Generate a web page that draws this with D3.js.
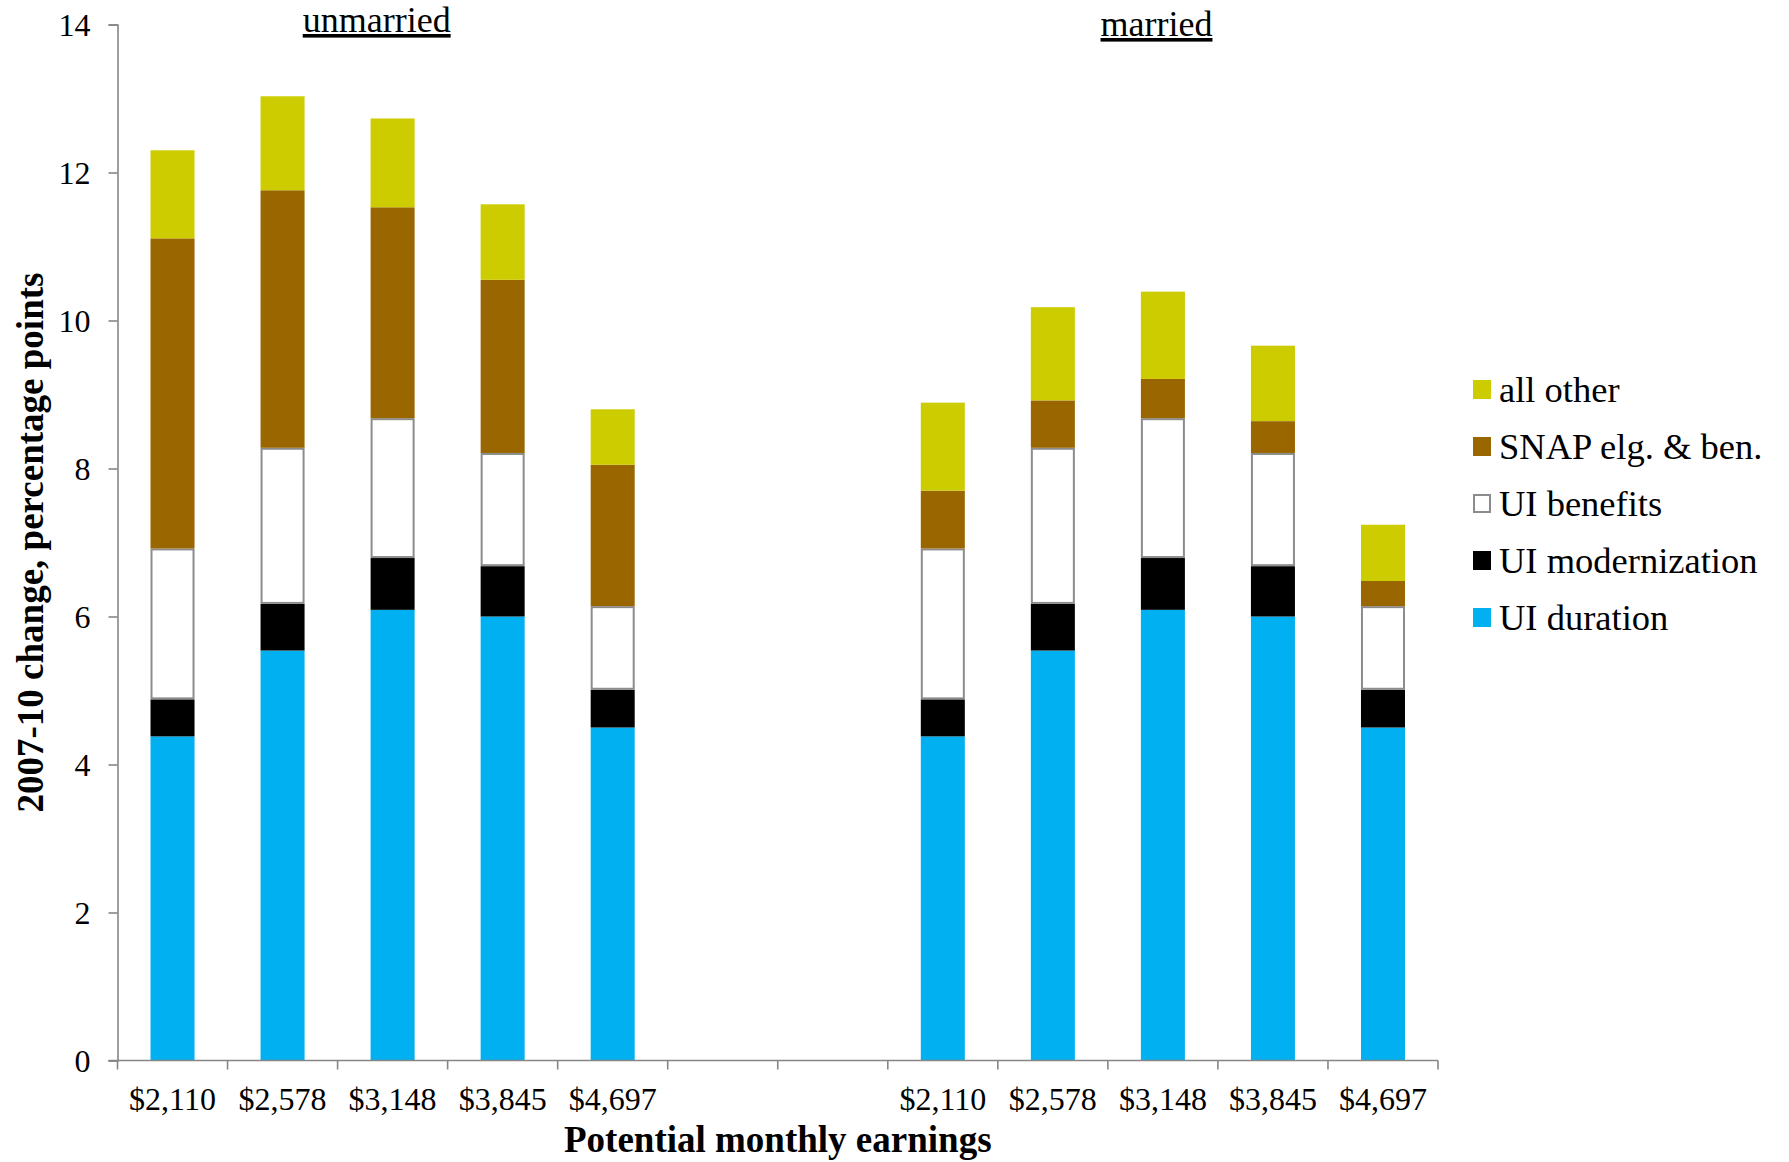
<!DOCTYPE html>
<html>
<head>
<meta charset="utf-8">
<script src="https://cdn.jsdelivr.net/npm/d3@7"></script>
<style>
  html, body { margin: 0; padding: 0; background: #ffffff; }
  svg { display: block; font-family: "Liberation Serif", "Times New Roman", serif; }
</style>
</head>
<body>
<svg id="chart" width="1789" height="1162"></svg>
<script>
// ---- data ----
const earnings = ["$2,110", "$2,578", "$3,148", "$3,845", "$4,697"];
const groups = ["unmarried", "married"];
const seriesNames = ["UI duration", "UI modernization", "UI benefits", "SNAP elg. & ben.", "all other"];
const seriesColors = ["#00b0f0", "#000000", "#ffffff", "#996600", "#cccc00"];
const yTicks = [0, 2, 4, 6, 8, 10, 12, 14];

// segment values, percentage points (same order as earnings)
const uiDurationUnmarried   = [4.38, 5.54, 6.09, 6.00, 4.50];
const uiModernUnmarried     = [0.50, 0.63, 0.70, 0.68, 0.51];
const uiBenefitsUnmarried   = [2.04, 2.11, 1.89, 1.53, 1.13];
const snapUnmarried         = [4.19, 3.48, 2.85, 2.34, 1.91];
const allOtherUnmarried     = [1.19, 1.27, 1.20, 1.02, 0.75];

const uiDurationMarried     = [4.38, 5.54, 6.09, 6.00, 4.50];
const uiModernMarried       = [0.50, 0.63, 0.70, 0.68, 0.51];
const uiBenefitsMarried     = [2.04, 2.11, 1.89, 1.53, 1.13];
const snapMarried           = [0.78, 0.64, 0.53, 0.43, 0.34];
const allOtherMarried       = [1.19, 1.26, 1.18, 1.02, 0.76];

(function () {
// ---- build table ----
const rows = [];
earnings.forEach((e, i) => rows.push({key: "u" + i, label: e,
  vals: [uiDurationUnmarried[i], uiModernUnmarried[i], uiBenefitsUnmarried[i], snapUnmarried[i], allOtherUnmarried[i]]}));
rows.push({key: "gap1", label: "", vals: null});
rows.push({key: "gap2", label: "", vals: null});
earnings.forEach((e, i) => rows.push({key: "m" + i, label: e,
  vals: [uiDurationMarried[i], uiModernMarried[i], uiBenefitsMarried[i], snapMarried[i], allOtherMarried[i]]}));

const svg = d3.select("#chart");
const pLeft = 117.5, pRight = 1438, pTop = 24.5, pBottom = 1060.5;

const x = d3.scaleBand().domain(rows.map(r => r.key)).range([pLeft, pRight]).padding(0);
const y = d3.scaleLinear().domain([0, 14]).range([pBottom, pTop]);
const axisColor = "#868686";
const barW = x.bandwidth() * 0.4;

// bars
const barRows = rows.filter(r => r.vals);
barRows.forEach(r => {
  let cum = 0;
  const g = svg.append("g");
  r.vals.forEach((v, si) => {
    const y0 = cum, y1 = cum + v;
    cum = y1;
    const rect = g.append("rect")
      .attr("x", x(r.key) + (x.bandwidth() - barW) / 2)
      .attr("width", barW)
      .attr("y", y(y1))
      .attr("height", y(y0) - y(y1))
      .attr("fill", seriesColors[si]);
    if (si === 2) {
      rect.attr("stroke", "#8c8c8c").attr("stroke-width", 2)
        .attr("x", x(r.key) + (x.bandwidth() - barW) / 2 + 1)
        .attr("width", barW - 2)
        .attr("y", y(y1) + 1)
        .attr("height", y(y0) - y(y1) - 2);
    }
  });
});

// y axis
const yAxis = d3.axisLeft(y).tickValues(yTicks).tickSize(9).tickPadding(18).tickFormat(d3.format("d"));
const ya = svg.append("g").attr("transform", `translate(${pLeft},0)`).call(yAxis);
ya.select(".domain").attr("stroke", axisColor).attr("stroke-width", 1.6);
ya.selectAll(".tick line").attr("stroke", axisColor).attr("stroke-width", 1.6);
ya.selectAll(".tick text").attr("font-size", 32).attr("fill", "#000")
  .attr("font-family", "Liberation Serif, Times New Roman, serif").attr("dy", "0.33em");

// x axis: line plus boundary ticks
const xg = svg.append("g");
xg.append("line").attr("x1", pLeft - 9).attr("x2", pRight).attr("y1", pBottom).attr("y2", pBottom)
  .attr("stroke", axisColor).attr("stroke-width", 1.6);
const bounds = rows.map(r => x(r.key)).concat([pRight]);
xg.selectAll("line.tk").data(bounds).join("line").attr("class", "tk")
  .attr("x1", d => d).attr("x2", d => d).attr("y1", pBottom).attr("y2", pBottom + 9)
  .attr("stroke", axisColor).attr("stroke-width", 1.6);
xg.selectAll("text.lbl").data(rows.filter(r => r.label)).join("text").attr("class", "lbl")
  .attr("x", r => x(r.key) + x.bandwidth() / 2).attr("y", 1110)
  .attr("text-anchor", "middle").attr("font-size", 32).attr("fill", "#000")
  .text(r => r.label);

// axis titles
svg.append("text").attr("x", (pLeft + pRight) / 2).attr("y", 1152)
  .attr("text-anchor", "middle").attr("font-size", 37).attr("font-weight", "bold")
  .text("Potential monthly earnings");
svg.append("text").attr("transform", `translate(43,${(pTop + pBottom) / 2}) rotate(-90)`)
  .attr("text-anchor", "middle").attr("font-size", 37).attr("font-weight", "bold")
  .text("2007-10 change, percentage points");

// group titles
const groupPos = [{x: 376.7, y: 32}, {x: 1156.5, y: 36}];
groups.forEach((gname, i) => {
  svg.append("text").attr("x", groupPos[i].x).attr("y", groupPos[i].y)
    .attr("text-anchor", "middle").attr("font-size", 36)
    .attr("text-decoration", "underline").text(gname);
});

// legend (reverse order: top = all other)
const legendOrder = [4, 3, 2, 1, 0];
const lg = svg.append("g");
legendOrder.forEach((si, k) => {
  const cy = 389.5 + k * 57;
  const r = lg.append("rect").attr("x", 1473).attr("y", cy - 9.5).attr("width", 18).attr("height", 19)
    .attr("fill", seriesColors[si]);
  if (si === 2) r.attr("stroke", "#8c8c8c").attr("stroke-width", 2).attr("x", 1474).attr("y", cy - 8.5)
    .attr("width", 16).attr("height", 17);
  lg.append("text").attr("x", 1499).attr("y", cy).attr("dy", "0.35em")
    .attr("font-size", 36.5).attr("fill", "#000").text(seriesNames[si]);
});
})();
</script>
</body>
</html>
